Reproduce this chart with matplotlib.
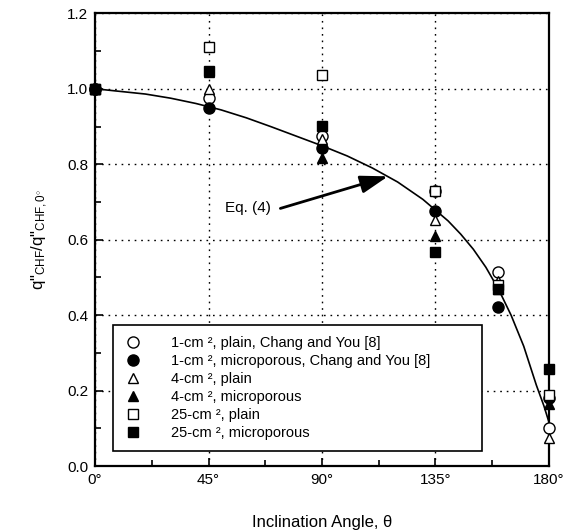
import numpy as np
import matplotlib
matplotlib.use('Agg')
import matplotlib.pyplot as plt
from matplotlib.ticker import MultipleLocator

plt.rcParams['font.family'] = ['Liberation Sans', 'DejaVu Sans']
plt.rcParams['mathtext.fontset'] = 'custom'
plt.rcParams['mathtext.rm'] = 'Liberation Sans'
plt.rcParams['mathtext.it'] = 'Liberation Sans:italic'

# inclination angles of the tests (deg)
angles = [0, 45, 90, 135, 160, 180]

# q"CHF / q"CHF,0
one_plain = [1.0, 0.975, 0.875, 0.728, 0.514, 0.10]
one_micro = [1.0, 0.948, 0.842, 0.677, 0.422, 0.18]
four_plain = [1.0, 1.0, 0.868, 0.652, 0.49, 0.075]
four_micro = [1.0, 1.045, 0.816, 0.609, 0.47, 0.165]
tf_plain = [1.0, 1.11, 1.036, 0.73, 0.48, 0.19]
tf_micro = [1.0, 1.046, 0.902, 0.567, 0.47, 0.257]

# Eq. (4) curve
eq_theta = [0, 10, 20, 30, 40, 50, 60, 70, 80, 90, 100, 110, 120, 130,
            140, 145, 150, 155, 160, 165, 170, 175, 178, 180]
eq_q = [1.0, 0.993, 0.986, 0.975, 0.961, 0.944, 0.923, 0.899, 0.874, 0.849,
        0.822, 0.790, 0.753, 0.707, 0.650, 0.615, 0.575, 0.527, 0.469, 0.400,
        0.318, 0.215, 0.160, 0.117]

labels = ['1-cm ², plain, Chang and You [8]',
          '1-cm ², microporous, Chang and You [8]',
          '4-cm ², plain',
          '4-cm ², microporous',
          '25-cm ², plain',
          '25-cm ², microporous']

fig = plt.figure(figsize=(5.76, 5.31), dpi=100)
ax = fig.add_axes([0.165, 0.122, 0.788, 0.853])

ax.plot(eq_theta, eq_q, color='k', lw=1.2, zorder=2)

series = [one_plain, one_micro, four_plain, four_micro, tf_plain, tf_micro]
markers = ['o', 'o', '^', '^', 's', 's']
fills = ['white', 'black', 'white', 'black', 'white', 'black']
sizes = [8, 8, 7, 7, 7.5, 7.5]
for ys, m, fc, ms, lab in zip(series, markers, fills, sizes, labels):
    ax.plot(angles, ys, linestyle='none', marker=m, markersize=ms,
            markerfacecolor=fc, markeredgecolor='k', markeredgewidth=1.0,
            label=lab, clip_on=False, zorder=3)

ax.set_xlim(0, 180)
ax.set_ylim(0, 1.2)
ax.xaxis.set_minor_locator(MultipleLocator(22.5))
ax.yaxis.set_minor_locator(MultipleLocator(0.1))
ax.set_xticks([0, 45, 90, 135, 180])
ax.set_xticklabels(['0°', '45°', '90°', '135°', '180°'])
ax.set_yticks([0, 0.2, 0.4, 0.6, 0.8, 1.0, 1.2])
ax.set_yticklabels(['0.0', '0.2', '0.4', '0.6', '0.8', '1.0', '1.2'])
ax.tick_params(which='both', direction='in', width=1.2, labelsize=11)
ax.tick_params(which='major', length=6, pad=5)
ax.tick_params(which='minor', length=4)
for s in ax.spines.values():
    s.set_linewidth(1.6)

ax.grid(True, which='major', linestyle=(0, (1.2, 3.5)), color='k', lw=1.0)

ax.set_xlabel('Inclination Angle, θ', fontsize=12, labelpad=20)
ax.set_ylabel(r'q"$_{\mathrm{CHF}}$/q"$_{\mathrm{CHF,0^{\circ}}}$', fontsize=12, labelpad=12)

ax.text(51.5, 0.683, 'Eq. (4)', fontsize=11, ha='left', va='center')
ax.annotate('', xy=(116.2, 0.768), xytext=(73.5, 0.683),
            arrowprops=dict(arrowstyle='-|>,head_length=1.4,head_width=0.45',
                            color='k', lw=2, mutation_scale=12, shrinkA=0, shrinkB=0))

leg = ax.legend(loc='upper left', bbox_to_anchor=(0.04, 0.031, 0.812, 0.28),
                mode='expand', borderaxespad=0, fontsize=10.5, frameon=True,
                fancybox=False, edgecolor='k', framealpha=1, handlelength=1.2,
                handletextpad=2.0, labelspacing=0.27, borderpad=0.75)
leg.get_frame().set_linewidth(1.2)

fig.savefig('out.png', dpi=100)
